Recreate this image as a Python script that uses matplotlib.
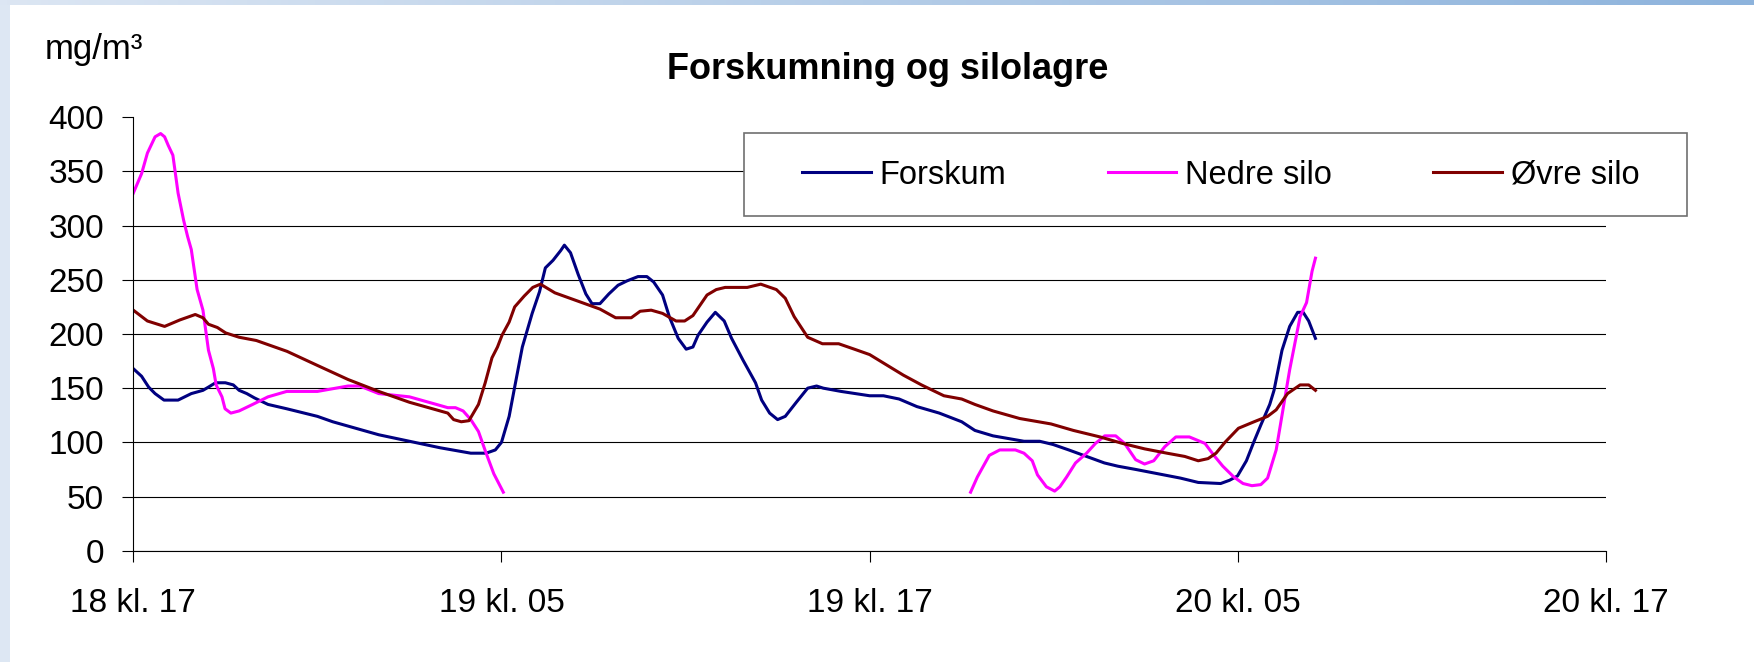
import numpy as np
import matplotlib
matplotlib.use('Agg')
import matplotlib.pyplot as plt
from matplotlib.patches import Rectangle

plt.rcParams['font.family'] = ['Liberation Sans', 'DejaVu Sans']

nan = float('nan')

# timer etter 18 kl. 17
forskum_t = [0.0, 0.27, 0.5, 0.71, 1.0, 1.46, 1.89, 2.27, 2.45, 2.68, 3.0, 3.26, 3.45, 3.7, 3.95,
             4.39, 5.0, 6.0, 6.5, 7.0, 8.0, 9.0, 10.0, 11.0, 11.5, 11.8, 12.0, 12.25, 12.43, 12.68,
             13.0, 13.24, 13.43, 13.68, 13.93, 14.05, 14.25, 14.5, 14.75, 14.95, 15.21, 15.5, 15.8,
             16.09, 16.45, 16.74, 16.96, 17.25, 17.47, 17.76, 18.02, 18.24, 18.41, 18.7, 18.97,
             19.26, 19.5, 19.87, 20.28, 20.48, 20.74, 21.0, 21.25, 21.61, 21.98, 22.27, 22.49,
             23.07, 24.0, 24.45, 24.96, 25.54, 26.27, 27.0, 27.43, 28.02, 29.03, 29.54, 29.98,
             30.49, 31.07, 31.65, 32.09, 32.67, 33.4, 34.13, 34.71, 35.44, 35.73, 35.99, 36.28,
             36.53, 36.75, 37.04, 37.18, 37.44, 37.69, 37.95, 38.13, 38.31, 38.53]
forskum = [168, 161, 151, 145, 139, 139, 145, 148, 151, 155, 155, 153, 148, 145, 141,
           135, 131, 124, 119, 115, 107, 101, 95, 90, 90, 93, 100, 124, 151, 188,
           219, 239, 261, 268, 277, 282, 275, 255, 237, 228, 228, 237, 245,
           249, 253, 253, 248, 236, 216, 196, 186, 188, 199, 211, 220,
           212, 196, 176, 155, 139, 127, 121, 124, 137, 150, 152, 150,
           147, 143, 143, 140, 133, 127, 119, 111, 106, 101, 101, 98,
           93, 87, 81, 78, 75, 71, 67, 63, 62, 65, 69, 83,
           101, 116, 135, 148, 185, 207, 220, 220, 212, 196]

nedre_t = [0.0, 0.27, 0.46, 0.71, 0.89, 1.02, 1.14, 1.29, 1.46, 1.64, 1.77, 1.89, 2.08, 2.27,
           2.45, 2.61, 2.7, 2.89, 2.99, 3.18, 3.45, 3.89, 4.39, 5.0, 6.0, 7.0, 7.38, 8.0, 9.0,
           9.88, 10.25, 10.5, 10.75, 11.0, 11.25, 11.5, 11.75, 12.06, 19.0,
           27.29, 27.51, 27.9, 28.24, 28.75, 29.03, 29.3, 29.47, 29.76, 30.03, 30.2, 30.42,
           30.71, 31.07, 31.36, 31.66, 32.02, 32.31, 32.67, 32.96, 33.26, 33.62, 33.98, 34.42,
           34.93, 35.22, 35.51, 35.87, 36.17, 36.46, 36.75, 36.97, 37.25, 37.47, 37.69, 38.03,
           38.24, 38.42, 38.53]
nedre = [330, 348, 367, 382, 385, 382, 374, 365, 330, 305, 290, 278, 241, 222,
         185, 168, 153, 142, 131, 127, 129, 135, 142, 147, 147, 152, 152, 145, 142,
         135, 132, 132, 129, 121, 110, 90, 71, 54, nan,
         54, 68, 88, 93, 93, 90, 83, 70, 59, 55, 59, 68,
         81, 90, 99, 106, 106, 99, 84, 80, 83, 96, 105, 105,
         99, 88, 78, 68, 62, 60, 61, 67, 93, 130, 167, 216,
         229, 258, 270]

ovre_t = [0.0, 0.46, 1.02, 1.52, 2.02, 2.27, 2.45, 2.74, 3.01, 3.45, 4.01, 5.01, 6.0, 7.0, 8.0,
          9.0, 10.25, 10.44, 10.69, 10.94, 11.25, 11.47, 11.69, 11.87, 12.02, 12.25, 12.43,
          12.74, 13.02, 13.27, 13.74, 15.21, 15.72, 16.23, 16.52, 16.88, 17.25, 17.69, 17.97,
          18.24, 18.7, 19.0, 19.29, 20.01, 20.45, 20.96, 21.25, 21.54, 21.98, 22.46, 22.99,
          23.5, 24.0, 24.52, 25.1, 25.69, 26.42, 27.0, 27.43, 28.02, 28.89, 29.91, 30.64,
          31.51, 32.24, 32.96, 33.69, 34.27, 34.71, 35.03, 35.29, 35.58, 36.02, 36.53, 36.97,
          37.25, 37.62, 38.03, 38.31, 38.53]
ovre = [222, 212, 207, 213, 218, 215, 209, 206, 201, 197, 194, 184, 171, 158, 147,
        137, 127, 121, 119, 120, 135, 155, 178, 188, 199, 211, 225,
        235, 243, 246, 238, 223, 215, 215, 221, 222, 219, 212, 212,
        217, 236, 241, 243, 243, 246, 241, 233, 216, 197, 191, 191,
        186, 181, 172, 162, 153, 143, 140, 135, 129, 122, 117, 111,
        105, 99, 94, 90, 87, 83, 85, 90, 100, 113, 119, 124,
        130, 145, 153, 153, 148]

tick_pos = [0, 12, 24, 36, 48]
tick_labels = ['18 kl. 17', '19 kl. 05', '19 kl. 17', '20 kl. 05', '20 kl. 17']

W, H = 1754, 662
fig = plt.figure(figsize=(W / 100, H / 100), dpi=100)
fig.patch.set_facecolor('white')

# blå kant oppe og til venstre
left_band = fig.add_axes([0, 0, 10 / W, 1])
left_band.axis('off')
left_band.add_patch(Rectangle((0, 0), 1, 1, color='#dde7f3', transform=left_band.transAxes))
top_band = fig.add_axes([0, 1 - 5 / H, 1, 5 / H])
grad = np.linspace(0, 1, 256)[None, :, None]
c0 = np.array([220, 230, 243]) / 255
c1 = np.array([141, 179, 220]) / 255
top_band.imshow(c0 + (c1 - c0) * grad, aspect='auto', extent=[0, 1, 0, 1])
top_band.axis('off')

ax = fig.add_axes([133.3 / W, 1 - 550.7 / H, (1606 - 133.3) / W, (550.7 - 117.3) / H])
ax.plot(forskum_t, forskum, color='#000080', lw=2.2, label='Forskum')
ax.plot(nedre_t, nedre, color='#ff00ff', lw=2.2, label='Nedre silo')
ax.plot(ovre_t, ovre, color='#800000', lw=2.2, label='Øvre silo')

ax.set_xlim(0, 48)
ax.set_ylim(0, 400)
ax.set_xticks(tick_pos)
ax.set_xticklabels(tick_labels)
ax.set_yticks(range(0, 401, 50))
ax.tick_params(axis='both', direction='out', length=8, width=0.8, labelsize=24)
ax.tick_params(axis='x', pad=19)
ax.tick_params(axis='y', pad=13)
for s in ['top', 'right']:
    ax.spines[s].set_visible(False)
for s in ['left', 'bottom']:
    ax.spines[s].set_linewidth(0.8)
ax.yaxis.grid(True, color='black', lw=0.8)
ax.set_axisbelow(True)
ax.yaxis.get_gridlines()[-1].set_visible(False)

fig.text(887.5 / W, 1 - 79.3 / H, 'Forskumning og silolagre', ha='center', va='baseline',
         fontsize=26, fontweight='bold')
fig.text(45 / W, 1 - 59.3 / H, 'mg/m³', ha='left', va='baseline', fontsize=25)

# legende
fig.patches.append(Rectangle((744 / W, 1 - 216 / H), (1687 - 744) / W, (216 - 133) / H,
                             transform=fig.transFigure, facecolor='white',
                             edgecolor='#707070', lw=1.2, zorder=3))
fig.legend(loc='center left', bbox_to_anchor=(802 / W, 1 - 175 / H), ncol=3, frameon=False,
           fontsize=23.5, borderpad=0, borderaxespad=0, handlelength=2.1, handletextpad=0.28,
           columnspacing=3.1)

fig.savefig('out.png', dpi=100)
